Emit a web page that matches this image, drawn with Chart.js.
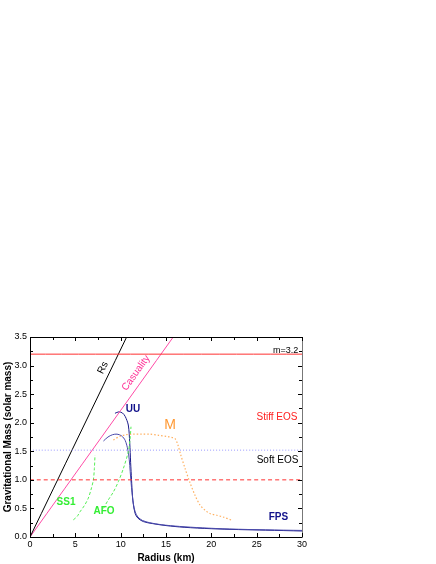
<!DOCTYPE html>
<html>
<head>
<meta charset="utf-8">
<script src="https://cdn.jsdelivr.net/npm/chart.js@4.4.1/dist/chart.umd.min.js"></script>
<style>
  html, body { margin: 0; padding: 0; background: #fff; }
  #wrap { width: 436px; height: 564px; }
</style>
</head>
<body>
<div id="wrap"><canvas id="myChart" width="436" height="564"></canvas></div>
<script>
// mass-radius curves (R in km, M in solar masses)
const uuR  = [9.37, 9.8, 10.2, 10.5, 10.84, 11.0, 11.1, 11.2, 11.3, 11.4, 11.6, 11.9, 12.5, 13.5, 15, 17, 20, 23, 26, 30];
const uuM  = [2.165, 2.19, 2.17, 2.11, 1.96, 1.65, 1.30, 1.00, 0.72, 0.57, 0.41, 0.33, 0.27, 0.235, 0.20, 0.17, 0.145, 0.13, 0.12, 0.105];

const fpsR = [8.1, 8.6, 9.1, 9.6, 10.1, 10.5, 10.8, 10.95, 11.05, 11.15, 11.25, 11.4, 11.6, 11.9, 12.4, 13.2, 14.5, 16.5, 19, 22, 26, 30];
const fpsM = [1.68, 1.75, 1.79, 1.80, 1.77, 1.69, 1.52, 1.35, 1.15, 0.95, 0.78, 0.58, 0.44, 0.35, 0.29, 0.25, 0.215, 0.185, 0.16, 0.14, 0.125, 0.115];

const afoR = [8.1, 8.6, 9.2, 9.75, 10.3, 10.84, 11.03, 11.14];
const afoM = [0.50, 0.64, 0.79, 0.97, 1.20, 1.49, 1.70, 1.93];

const ss1R = [4.78, 5.2, 5.51, 6.0, 6.43, 6.75, 6.99, 7.1, 7.17];
const ss1M = [0.30, 0.36, 0.44, 0.55, 0.68, 0.84, 1.00, 1.20, 1.43];

const mR   = [9.19, 9.9, 10.6, 11.4, 12.3, 13.2, 14.2, 15.1, 15.7, 16.0, 16.3, 16.6, 17.1, 17.6, 18.2, 18.75, 19.3, 19.85, 20.6, 21.3, 22.3];
const mM   = [1.70, 1.76, 1.79, 1.80, 1.80, 1.80, 1.78, 1.76, 1.74, 1.72, 1.62, 1.45, 1.20, 0.97, 0.73, 0.56, 0.47, 0.41, 0.38, 0.35, 0.29];

// limit lines
const rsR  = [0, 10.66];
const rsM  = [0, 3.5];
const causR = [0, 15.8];
const causM = [0, 3.5];

// horizontal reference levels
const lineR = [0, 30];
const maxMass = 3.2;
const softMass = 1.52;
const oneMass = 1.0;

const pts = (xs, ys) => xs.map((x, i) => ({ x: x, y: ys[i] }));
const flat = (v) => lineR.map((x) => ({ x: x, y: v }));

// text labels placed in data coordinates
const notes = [
  { text: 'm=3.2', r: 29.6, m: 3.27, color: '#000', font: '9px "Liberation Sans"', align: 'right' },
  { text: 'Stiff EOS', r: 29.5, m: 2.10, color: '#ff2020', font: '10px "Liberation Sans"', align: 'right' },
  { text: 'Soft EOS', r: 29.6, m: 1.35, color: '#000', font: '10px "Liberation Sans"', align: 'right' },
  { text: 'FPS', r: 27.4, m: 0.35, color: '#10108a', font: 'bold 10px "Liberation Sans"', align: 'center' },
  { text: 'UU', r: 11.36, m: 2.23, color: '#10108a', font: 'bold 10px "Liberation Sans"', align: 'center' },
  { text: 'M', r: 15.44, m: 1.96, color: '#ff9933', font: '14px "Liberation Sans"', align: 'center' },
  { text: 'SS1', r: 3.97, m: 0.61, color: '#33ee33', font: 'bold 10px "Liberation Sans"', align: 'center' },
  { text: 'AFO', r: 8.16, m: 0.455, color: '#33ee33', font: 'bold 10px "Liberation Sans"', align: 'center' },
  { text: 'Rs', r: 8.05, m: 2.96, color: '#000', font: '10px "Liberation Sans"', align: 'center', along: [rsR, rsM] },
  { text: 'Casuality', r: 11.69, m: 2.87, color: '#ff2f95', font: '10px "Liberation Sans"', align: 'center', along: [causR, causM] }
];

const frame = {
  id: 'frame',
  afterDraw(chart) {
    const ctx = chart.ctx;
    const a = chart.chartArea;
    const xs = chart.scales.x, ys = chart.scales.y;
    ctx.save();
    ctx.lineWidth = 1;
    ctx.strokeStyle = '#000';
    ctx.beginPath();
    ctx.moveTo(a.left + 0.5, a.top);
    ctx.lineTo(a.left + 0.5, a.bottom + 0.5);
    ctx.lineTo(a.right, a.bottom + 0.5);
    ctx.moveTo(a.left, a.top + 0.5);
    ctx.lineTo(a.right, a.top + 0.5);
    ctx.stroke();
    ctx.strokeStyle = '#777';
    ctx.beginPath();
    ctx.moveTo(a.right + 0.5, a.top);
    ctx.lineTo(a.right + 0.5, a.bottom + 1);
    ctx.stroke();

    // inward ticks
    ctx.strokeStyle = '#000';
    ctx.beginPath();
    for (let v = 0; v <= 30.001; v += 2.5) {
      const p = Math.round(xs.getPixelForValue(v)) + 0.5;
      const len = (Math.abs(v % 5) < 0.01) ? 4 : 3;
      ctx.moveTo(p, a.bottom);
      ctx.lineTo(p, a.bottom - len);
      ctx.moveTo(p, a.top);
      ctx.lineTo(p, a.top + len);
    }
    for (let v = 0; v <= 3.501; v += 0.25) {
      const p = Math.round(ys.getPixelForValue(v)) + 0.5;
      const len = (Math.abs(v % 0.5) < 0.01) ? 4 : 3;
      ctx.moveTo(a.left, p);
      ctx.lineTo(a.left + len, p);
      ctx.moveTo(a.right, p);
      ctx.lineTo(a.right - len, p);
    }
    ctx.stroke();

    // labels
    notes.forEach((n) => {
      const x = xs.getPixelForValue(n.r);
      const y = ys.getPixelForValue(n.m);
      ctx.save();
      ctx.translate(x, y);
      if (n.along) {
        const [lr, lm] = n.along;
        const ang = Math.atan2(ys.getPixelForValue(lm[1]) - ys.getPixelForValue(lm[0]),
                               xs.getPixelForValue(lr[1]) - xs.getPixelForValue(lr[0]));
        ctx.rotate(ang);
      }
      ctx.font = n.font;
      ctx.fillStyle = n.color;
      ctx.textAlign = n.align;
      ctx.textBaseline = 'middle';
      ctx.fillText(n.text, 0, 0);
      ctx.restore();
    });
    ctx.restore();
  }
};

const line = (data, color, dash, width) => ({
  data: data,
  borderColor: color,
  borderWidth: width || 1,
  borderDash: dash || [],
  pointRadius: 0,
  showLine: true,
  fill: false,
  tension: 0.3
});

const ctx = document.getElementById('myChart').getContext('2d');
const chart = new Chart(ctx, {
  type: 'scatter',
  data: {
    datasets: [
      line(flat(maxMass), '#ff3030', [], 1),
      line(flat(softMass), '#9a9aff', [1, 2], 1),
      line(flat(oneMass), '#ff3030', [4, 3], 1),
      line(pts(rsR, rsM), '#000000', [], 1),
      line(pts(causR, causM), '#ff4aa6', [], 1),
      line(pts(mR, mM), '#ffb060', [1.5, 2], 1.2),
      line(pts(ss1R, ss1M), '#55ee55', [3, 2], 1),
      line(pts(afoR, afoM), '#55ee55', [3, 2], 1),
      line(pts(fpsR, fpsM), '#4848aa', [], 1),
      line(pts(uuR, uuM), '#1a1a8a', [], 1)
    ]
  },
  options: {
    responsive: false,
    animation: false,
    devicePixelRatio: 1,
    layout: { padding: { top: 337, right: 134, left: 0, bottom: 0 } },
    plugins: { legend: { display: false }, tooltip: { enabled: false } },
    scales: {
      x: {
        type: 'linear', min: 0, max: 30,
        afterFit: (s) => { s.height = 27; },
        grid: { display: false, drawTicks: false },
        border: { display: false },
        ticks: { stepSize: 5, padding: 2, color: '#000', font: { family: 'Liberation Sans', size: 9 } },
        title: { display: true, text: 'Radius (km)', color: '#000', padding: { top: 3, bottom: 0 },
                 font: { family: 'Liberation Sans', size: 10, weight: 'bold' } }
      },
      y: {
        type: 'linear', min: 0, max: 3.5,
        afterFit: (s) => { s.width = 30; },
        grid: { display: false, drawTicks: false },
        border: { display: false },
        ticks: { stepSize: 0.5, padding: 3, color: '#000', font: { family: 'Liberation Sans', size: 9 },
                 callback: (v) => v.toFixed(1) },
        title: { display: true, text: 'Gravitational Mass (solar mass)', color: '#000', padding: { top: 2, bottom: 0 },
                 font: { family: 'Liberation Sans', size: 10, weight: 'bold' } }
      }
    }
  },
  plugins: [frame]
});
</script>
</body>
</html>
